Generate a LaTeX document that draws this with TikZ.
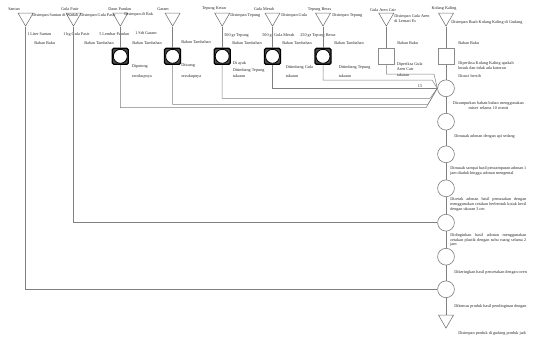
\documentclass[tikz,border=0pt]{standalone}
\usepackage{fontspec}
\setmainfont{Liberation Serif}
\usetikzlibrary{shapes.geometric}

\begin{document}
\begin{tikzpicture}[
  x=0.025cm, y=-0.025cm,
  font=\fontsize{3}{3.5}\selectfont,
  store/.style={draw=black!55, regular polygon, regular polygon sides=3,
                shape border rotate=180, minimum size=0.43cm, inner sep=0pt},
  opbox/.style={draw=black, fill=black!70, line width=0.9pt, rounded corners=1pt,
                minimum size=0.4cm, inner sep=0pt},
  opring/.style={circle, draw=black, fill=white, line width=0.6pt,
                 minimum size=0.35cm, inner sep=0pt},
  check/.style={draw=black!45, minimum size=0.4cm, inner sep=0pt},
  proc/.style={circle, draw=black!55, minimum size=0.42cm, inner sep=0pt},
  lbl/.style={inner sep=0pt, text=black!85},
  note/.style={lbl, anchor=west},
  stepnote/.style={lbl, anchor=west, text width=1.9cm, align=center},
  link/.style={draw=black!50, line width=0.35pt}
]
\useasboundingbox (0,0) rectangle (536,338);
% bahan baku dan bahan tambahan (penyimpanan)
\node[store] (s1) at (25.6,17.5) {};
\node[store] (s2) at (73.5,17.5) {};
\node[store] (s3) at (120.3,17.5) {};
\node[store] (s4) at (172.6,17.5) {};
\node[store] (s5) at (222.2,17.5) {};
\node[store] (s6) at (272.5,17.5) {};
\node[store] (s7) at (323,17.5) {};
\node[store] (s8) at (386.3,17.5) {};
\node[store] (s9) at (446,17.5) {};
% nama bahan
\node[lbl] (n1) at (14,9.3) {Santan};
\node[lbl] (n2) at (70,9.3) {Gula Pasir};
\node[lbl] (n3) at (119.7,9.3) {Daun Pandan};
\node[lbl] (n4) at (163,9.3) {Garam};
\node[lbl] (n5) at (214,8.3) {Tepung Ketan};
\node[lbl] (n6) at (264,9.3) {Gula Merah};
\node[lbl] (n7) at (319.6,9.3) {Tepung Beras};
\node[lbl] (n8) at (383,10) {Gula Aren Cair};
\node[lbl] (n9) at (444,8.3) {Kolang Kaling};
% keterangan penyimpanan
\node[note] (d1) at (32,15.7) {Disimpan Santan di Wadah};
\node[note] (d2) at (80,15.7) {Disimpan Gula Pasir};
\node[note] (d3) at (124,14.7) {Disimpan di Rak};
\node[note] (d5) at (230,15.7) {Disimpan Tepung};
\node[note] (d6) at (281,15.7) {Disimpan Gula};
\node[note] (d7) at (332,15.7) {Disimpan Tepung};
\node[note, align=left] (d8) at (394,18.2) {Disimpan Gula Aren\\di Lemari Es};
\node[note] (d9) at (451,22.7) {Disimpan Buah Kolang Kaling di Gudang};
% takaran
\node[note] (q1) at (27,34.3) {1 Liter Santan};
\node[note] (q2) at (63,34.3) {1 kg Gula Pasir};
\node[note] (q3) at (99,34.3) {5 Lembar Pandan};
\node[note] (q4) at (135,33.3) {1 Sdt Garam};
\node[note] (q5) at (224,35.5) {500 gr Tepung};
\node[note] (q6) at (262,35.5) {500 gr Gula Merah};
\node[note] (q7) at (300,35.5) {250 gr Tepung Beras};
% jenis bahan
\node[note] (b1) at (34,43.3) {Bahan Baku};
\node[note] (b2) at (84,43.3) {Bahan Tambahan};
\node[note] (b3) at (132,43.3) {Bahan Tambahan};
\node[note] (b4) at (181,42.3) {Bahan Tambahan};
\node[note] (b5) at (232,43.3) {Bahan Tambahan};
\node[note] (b6) at (282,43.3) {Bahan Tambahan};
\node[note] (b7) at (334,43.3) {Bahan Tambahan};
\node[note] (b8) at (397,42.7) {Bahan Baku};
\node[note] (b9) at (458,43.3) {Bahan Baku};
% operasi dan pemeriksaan bahan
\node[opbox] (o1) at (120.3,56.3) {};
\node[opring] (o1r) at (o1) {};
\node[opbox] (o2) at (172.6,56.3) {};
\node[opring] (o2r) at (o2) {};
\node[opbox] (o3) at (222.2,56.3) {};
\node[opring] (o3r) at (o3) {};
\node[opbox] (o4) at (272.5,56.3) {};
\node[opring] (o4r) at (o4) {};
\node[opbox] (o5) at (323,56.3) {};
\node[opring] (o5r) at (o5) {};
\node[check] (k8) at (386.3,56.3) {};
\node[check] (k9) at (446,56.3) {};
% keterangan operasi
\node[note] (e1a) at (131.6,66.7) {Dipotong};
\node[note] (e1b) at (131.6,76) {secukupnya};
\node[note] (e2a) at (181,66) {Dituang};
\node[note] (e2b) at (181,76) {secukupnya};
\node[note] (e3a) at (232.5,63.3) {Di ayak};
\node[note] (e3b) at (232.5,70) {Ditimbang Tepung};
\node[note] (e3c) at (232.5,76) {takaran};
\node[note] (e4a) at (285.5,67.7) {Ditimbang Gula};
\node[note] (e4b) at (285.5,76) {takaran};
\node[note] (e5a) at (338.5,67.7) {Ditimbang Tepung};
\node[note] (e5b) at (338.5,76) {takaran};
\node[note, align=left] (e8a) at (396.6,66.7) {Diperiksa Gula\\Aren Cair};
\node[note] (e8b) at (396.6,75) {takaran};
\node[note, align=left] (e9a) at (458,66) {Diperiksa Kolang Kaling apakah\\busuk dan tidak ada kotoran};
\node[note] (e9b) at (458,76) {Dicuci bersih};
% proses utama
\node[proc] (c1) at (446,88.3) {};
\node[proc] (c2) at (446,121.7) {};
\node[proc] (c3) at (446,154.3) {};
\node[proc] (c4) at (446,188.3) {};
\node[proc] (c5) at (446,222.7) {};
\node[proc] (c6) at (446,256.7) {};
\node[proc] (c7) at (446,289.3) {};
\node[store] (s10) at (446,319.5) {};
% keterangan proses
\node[stepnote] (m1) at (450,105.2) {Dicampurkan bahan-bahan menggunakan\\mixer selama 10 menit};
\node[note] (m2) at (454,136.7) {Dimasak adonan dengan api sedang};
\node[stepnote, align=justify] (m3) at (450,171) {Dimasak sampai hasil pencampuran adonan 1 jam diaduk hingga adonan mengental};
\node[stepnote, align=justify] (m4) at (450,204.3) {Dicetak adonan hasil pemasakan dengan menggunakan cetakan berbentuk kotak kecil dengan ukuran 3 cm};
\node[stepnote, align=justify] (m5) at (450,240) {Didinginkan hasil adonan menggunakan cetakan plastik dengan suhu ruang selama 2 jam};
\node[note] (m6) at (454,272.7) {Dikeringkan hasil pencetakan dengan oven};
\node[note] (m7) at (454,306) {Dikemas produk hasil pendinginan dengan};
\node[note] (m8) at (458,333.3) {Disimpan produk di gudang produk jadi};
\node[lbl] (mk) at (420,86) {15};
% bahan ke operasi
\draw[link] (s3.south) -- (o1.north);
\draw[link] (s4.south) -- (o2.north);
\draw[link] (s5.south) -- (o3.north);
\draw[link] (s6.south) -- (o4.north);
\draw[link] (s7.south) -- (o5.north);
\draw[link] (s8.south) -- (k8.north);
\draw[link] (s9.south) -- (k9.north);
% santan dan gula pasir masuk di bawah
\draw[link] (s1.south) |- (c7.west);
\draw[link] (s2.south) |- (c5.west);
% hasil operasi ke pencampuran
\draw[link] (o1.south) |- (426,107.7) -- (c1.west);
\draw[link] (o2.south) |- (428,104.3) -- (c1.west);
\draw[link] (o3.south) |- (430,98.3) -- (c1.west);
\draw[link] (o4.south) |- (c1.west);
\draw[link] (o5.south) |- (432,80) -- (c1.west);
\draw[link] (k8.south) |- (434,74) -- (c1.west);
% aliran utama
\draw[link] (k9.south) -- (c1.north);
\draw[link] (c1) -- (c2);
\draw[link] (c2) -- (c3);
\draw[link] (c3) -- (c4);
\draw[link] (c4) -- (c5);
\draw[link] (c5) -- (c6);
\draw[link] (c6) -- (c7);
\draw[link] (c7.south) -- (s10.north);
\end{tikzpicture}
\end{document}
